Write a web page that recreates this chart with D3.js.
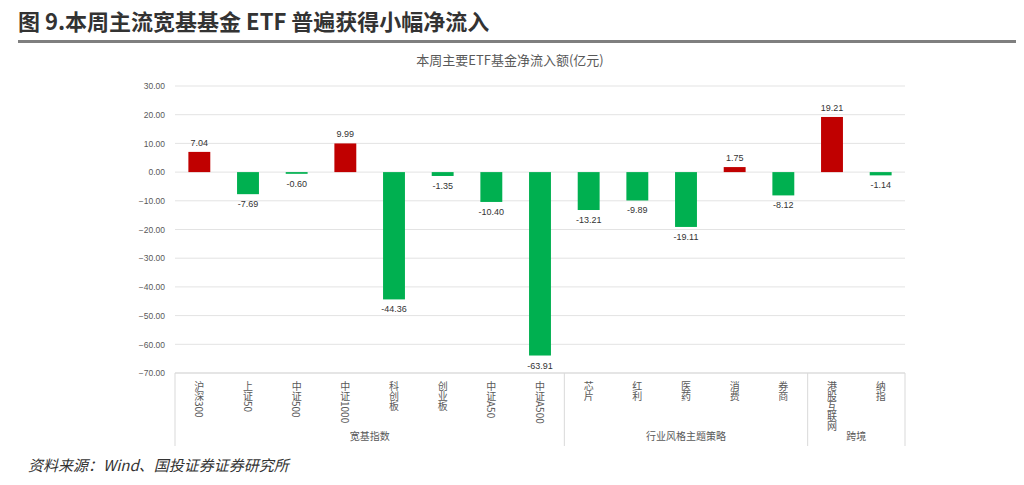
<!DOCTYPE html><html><head><meta charset="utf-8">
<script src="https://cdn.jsdelivr.net/npm/d3@7"></script>
<style>body{margin:0;background:#fff}svg{display:block;font-family:"Noto Sans CJK SC","Noto Sans",sans-serif}</style></head><body>
<svg id="c" width="1024" height="485"></svg>
<script>
const categories=["沪深300","上证50","中证500","中证1000","科创板","创业板","中证A50","中证A500","芯片","红利","医药","消费","券商","港股互联网","纳指"];
const values=[7.04,-7.69,-0.60,9.99,-44.36,-1.35,-10.40,-63.91,-13.21,-9.89,-19.11,1.75,-8.12,19.21,-1.14];
const groups=[{name:"宽基指数",n:8},{name:"行业风格主题策略",n:5},{name:"跨境",n:2}];
const yTicks=[30,20,10,0,-10,-20,-30,-40,-50,-60,-70];
const svg=d3.select("#c");
svg.append("text").attr("x",18).attr("y",30).attr("font-size",22).attr("font-weight","bold").attr("fill","#333").text("图 9.本周主流宽基基金 ETF 普遍获得小幅净流入");
svg.append("rect").attr("x",18).attr("y",40).attr("width",998).attr("height",3).attr("fill","#7f7f7f");
svg.append("text").attr("x",510).attr("y",65).attr("text-anchor","middle").attr("font-size",13).attr("fill","#595959").text("本周主要ETF基金净流入额(亿元)");
const L=175,R=905;
const y=d3.scaleLinear().domain([-70,30]).range([373,86]);
const x=d3.scaleBand().domain(categories).range([L,R]).paddingInner(0.55).paddingOuter(0.275);
const g=svg.append("g");
g.selectAll("line.grid").data(yTicks).join("line").attr("x1",L).attr("x2",R).attr("y1",d=>y(d)).attr("y2",d=>y(d)).attr("stroke","#e3e3e3");
const ax=g.append("g").attr("transform",`translate(${L},0)`).call(d3.axisLeft(y).tickValues(yTicks).tickFormat(d3.format(".2f")).tickSize(0).tickPadding(10));
ax.select(".domain").remove();
ax.selectAll("text").attr("font-size",8.5).attr("fill","#595959").attr("font-family","Liberation Sans");
g.selectAll("rect.b").data(values).join("rect").attr("x",(d,i)=>x(categories[i])).attr("width",x.bandwidth())
 .attr("y",d=>y(Math.max(0,d))).attr("height",d=>Math.abs(y(d)-y(0))).attr("fill",d=>d>=0?"#c00000":"#00b050");
g.selectAll("text.v").data(values).join("text").attr("x",(d,i)=>x(categories[i])+x.bandwidth()/2)
 .attr("y",d=>d>=0?y(d)-6:y(d)+13).attr("text-anchor","middle").attr("font-size",9).attr("font-family","Liberation Sans").attr("fill","#333").text(d=>d.toFixed(2));
g.selectAll("text.cat").data(categories).join("text").attr("class","cat")
 .attr("x",c=>x(c)+x.bandwidth()/2).attr("y",381)
 .attr("writing-mode","vertical-rl").style("text-orientation","mixed")
 .attr("font-size",10).attr("fill","#595959").text(c=>c);
const edges=[L];let acc=0;groups.forEach(gr=>{acc+=gr.n;edges.push(L+(R-L)*acc/categories.length);});
g.selectAll("line.sep").data(edges).join("line").attr("x1",d=>d).attr("x2",d=>d).attr("y1",373).attr("y2",446).attr("stroke","#d9d9d9");
g.append("line").attr("x1",L).attr("x2",R).attr("y1",373).attr("y2",373).attr("stroke","#d9d9d9");
groups.forEach((gr,i)=>{g.append("text").attr("x",(edges[i]+edges[i+1])/2).attr("y",440).attr("text-anchor","middle").attr("font-size",10).attr("fill","#595959").text(gr.name);});
svg.append("text").attr("x",28).attr("y",471).attr("font-size",15).attr("font-style","italic").attr("fill","#333").text("资料来源：Wind、国投证券证券研究所");
</script></body></html>
